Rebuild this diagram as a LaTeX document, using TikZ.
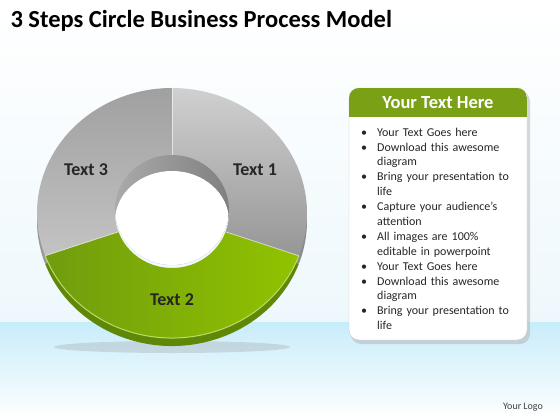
\documentclass[tikz,border=0pt]{standalone}
\usepackage{fontspec}
\setmainfont{Carlito}
\usetikzlibrary{positioning}
\definecolor{headgreen}{RGB}{122,160,22}
\definecolor{greenA}{RGB}{112,156,14}
\definecolor{greenB}{RGB}{145,195,0}
\definecolor{greenside}{RGB}{96,136,8}
\definecolor{skyband}{RGB}{200,236,250}
\definecolor{skypale}{RGB}{238,248,252}
\tikzstyle{ringlabel} = [font=\fontsize{18}{21}\selectfont\bfseries, text=black!85]
\tikzstyle{segline} = [white, opacity=0.6, line width=0.8pt]
\tikzstyle{listtext} = [font=\fontsize{12}{14.9}\selectfont, text=black!85, anchor=north west, text width=175pt, inner sep=0pt]
\newcommand{\ringseg}[2]{(#1:135 and 125) arc[start angle=#1,end angle=#2,x radius=135,y radius=125] -- (#2:57 and 55) arc[start angle=#2,end angle=#1,x radius=57,y radius=55] -- cycle}
\newcommand{\bitem}[1]{\par\noindent\makebox[18pt][l]{\hspace{2pt}\textbullet}#1}
\newcommand{\bnext}[1]{\par\noindent\hspace*{18pt}#1}
\begin{document}
\begin{tikzpicture}[x=1pt, y=-1pt]
    % background
    \useasboundingbox (0,0) rectangle (560,420);
    \shade[top color=white, bottom color=skypale] (0,0) rectangle (560,322);
    \shade[top color=skyband, bottom color=white] (0,322) rectangle (560,420);

    \node (title) [anchor=base west, font=\fontsize{24.5}{28}\selectfont\bfseries] at (7,28) {3 Steps Circle Business Process Model};

    % ring
    \fill[black!45, opacity=0.25] (172,347) ellipse [x radius=118, y radius=6];
    \begin{scope}[shift={(172,221)}]
        \fill[greenside] \ringseg{20}{160};
        \fill[black!45] \ringseg{-90}{20};
        \fill[black!40] \ringseg{160}{270};
    \end{scope}
    \begin{scope}[shift={(172,213)}]
        \shade[left color=greenA, right color=greenB] \ringseg{20}{160};
        \shade[top color={rgb,255:red,208;green,208;blue,208}, bottom color={rgb,255:red,150;green,150;blue,150}] \ringseg{-90}{20};
        \shade[top color={rgb,255:red,160;green,160;blue,160}, bottom color={rgb,255:red,195;green,195;blue,195}] \ringseg{160}{270};
        \draw[greenB!60!white, line width=1pt] (20:135 and 125) arc[start angle=20,end angle=160,x radius=135,y radius=125];
        % hole
        \shade[left color={rgb,255:red,170;green,170;blue,170}, right color={rgb,255:red,128;green,128;blue,128}] (0,-3) ellipse [x radius=57, y radius=55];
        \begin{scope}
            \clip (0,-3) ellipse [x radius=57, y radius=55];
            \fill[white] (0,8) ellipse [x radius=57, y radius=50];
        \end{scope}
        \draw[segline] (-90:135 and 125) -- (-90:57 and 58);
        \draw[segline] (20:135 and 125) -- (20:57 and 55);
        \draw[segline] (160:135 and 125) -- (160:57 and 55);
    \end{scope}
    \node (t1) [ringlabel] at (255,170) {Text 1};
    \node (t2) [ringlabel] at (172,300) {Text 2};
    \node (t3) [ringlabel] at (86,170) {Text 3};

    % text panel
    \fill[black!30, opacity=0.5, rounded corners=10] (351,91) rectangle (530,344);
    \draw[black!20, fill=white, rounded corners=10] (349,88) rectangle (527,340);
    \begin{scope}
        \clip[rounded corners=10] (349,88) rectangle (527,340);
        \fill[headgreen] (349,88) rectangle (527,117);
    \end{scope}
    \node (head) [font=\fontsize{18.5}{22}\selectfont\bfseries, text=white] at (438,103) {Your Text Here};
    \node (list) [listtext] at (359,121) {%
        \bitem{Your Text Goes here}%
        \bitem{Download this awesome}\bnext{diagram}%
        \bitem{Bring your presentation to}\bnext{life}%
        \bitem{Capture your audience’s}\bnext{attention}%
        \bitem{All images are 100\%}\bnext{editable in powerpoint}%
        \bitem{Your Text Goes here}%
        \bitem{Download this awesome}\bnext{diagram}%
        \bitem{Bring your presentation to}\bnext{life}};

    \node (logo) [font=\fontsize{10}{12}\selectfont, text=black!75] at (523,407) {Your Logo};
\end{tikzpicture}
\end{document}
